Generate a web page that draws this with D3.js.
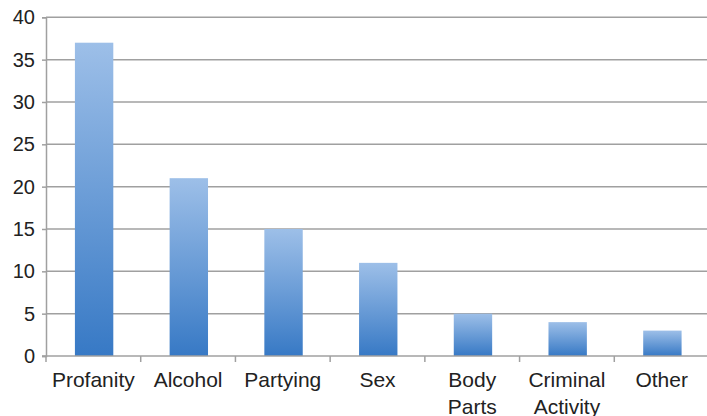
<!DOCTYPE html>
<html><head><meta charset="utf-8">
<script src="https://cdn.jsdelivr.net/npm/d3@7"></script>
<style>body{margin:0;background:#fff}svg{display:block}</style>
</head><body>
<script>
const categories = [["Profanity"],["Alcohol"],["Partying"],["Sex"],["Body","Parts"],["Criminal","Activity"],["Other"]];
const values = [37, 21, 15, 11, 5, 4, 3];
const yTicks = [0, 5, 10, 15, 20, 25, 30, 35, 40];

const W = 707, H = 416;
const svg = d3.select("body").append("svg").attr("width", W).attr("height", H);
const x0 = 46, x1 = 709, yTop = 17.3, yBot = 356;
const keys = categories.map(c => c.join(" "));
const x = d3.scaleBand().domain(keys).range([x0, x1]).paddingInner(0.6).paddingOuter(0.3);
const xb = d3.scaleBand().domain(keys).range([x0, x1]);
const y = d3.scaleLinear().domain([0, 40]).range([yBot, yTop]);

const defs = svg.append("defs");
const g = defs.append("linearGradient").attr("id","bg").attr("x1",0).attr("y1",0).attr("x2",0).attr("y2",1);
g.append("stop").attr("offset","0%").attr("stop-color","#9dbfe8");
g.append("stop").attr("offset","100%").attr("stop-color","#3779c5");

const grid = "#a0a0a0";
// gridlines
svg.append("g").selectAll("line").data(yTicks.filter(d => d > 0)).join("line")
  .attr("x1", x0).attr("x2", W).attr("y1", d => y(d)).attr("y2", d => y(d))
  .attr("stroke", grid).attr("stroke-width", 1.5);

// bars
svg.append("g").selectAll("rect").data(values).join("rect")
  .attr("x", (d,i) => x(keys[i]) + 0.5).attr("width", x.bandwidth() + 0.5)
  .attr("y", d => y(d)).attr("height", d => yBot - y(d))
  .attr("fill", "url(#bg)");

// y axis
const ya = svg.append("g").attr("transform", `translate(${x0},0)`)
  .call(d3.axisLeft(y).tickValues(yTicks).tickSize(4).tickPadding(7));
ya.select(".domain").attr("stroke", grid).attr("stroke-width", 1.5);
ya.selectAll(".tick line").attr("stroke", grid).attr("stroke-width", 1.5);
ya.selectAll(".tick text").attr("font-family", "Arial, 'Liberation Sans', sans-serif")
  .attr("font-size", 20).attr("fill", "#222");

// x axis line
svg.append("line").attr("x1", x0 - 4).attr("x2", W).attr("y1", yBot).attr("y2", yBot)
  .attr("stroke", grid).attr("stroke-width", 1.5);
// x tick marks at band boundaries
const bounds = keys.map(k => xb(k)).concat([x1]);
svg.append("g").selectAll("line").data(bounds).join("line")
  .attr("x1", d => d).attr("x2", d => d).attr("y1", yBot).attr("y2", yBot + 6)
  .attr("stroke", grid).attr("stroke-width", 1.5);

// x labels
const lab = svg.append("g").attr("font-family", "Arial, 'Liberation Sans', sans-serif")
  .attr("font-size", 21).attr("fill", "#222").attr("text-anchor", "middle");
categories.forEach((c, i) => {
  const t = lab.append("text").attr("x", xb(keys[i]) + xb.bandwidth()/2).attr("y", 387);
  c.forEach((line, j) => t.append("tspan").attr("x", xb(keys[i]) + xb.bandwidth()/2).attr("dy", j === 0 ? 0 : 26.5).text(line));
});
</script>
</body></html>
